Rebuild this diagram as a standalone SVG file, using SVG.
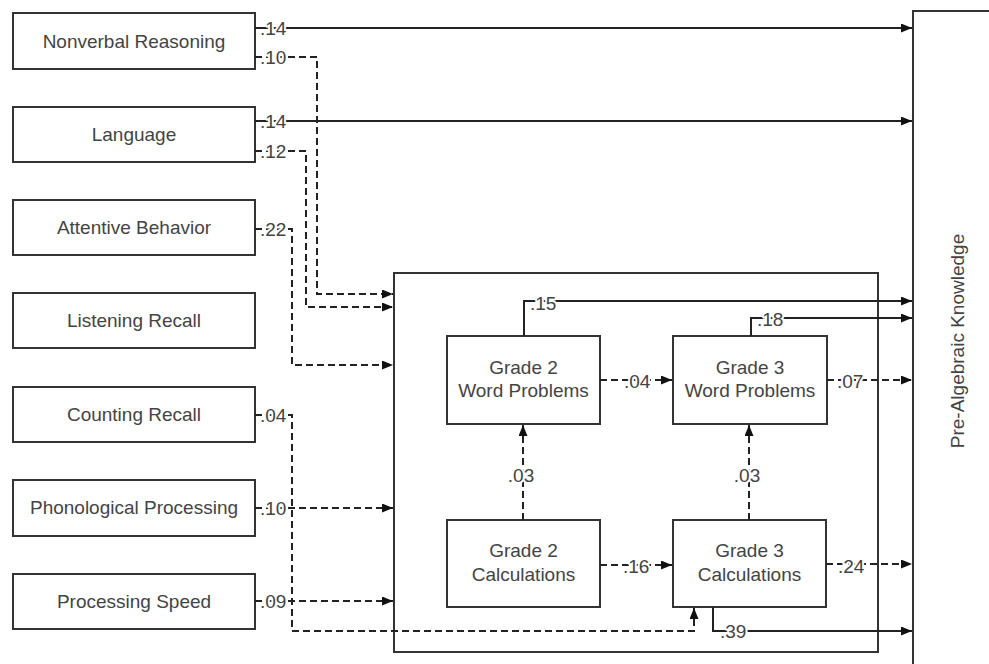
<svg xmlns="http://www.w3.org/2000/svg" width="989" height="664" viewBox="0 0 989 664">
<defs>
<style>
.box{fill:#fff;stroke:#333;stroke-width:2}
.t{font-family:"Liberation Sans",Arial,sans-serif;font-size:19px;fill:#444;text-anchor:middle}
.lbl{font-family:"Liberation Sans",Arial,sans-serif;font-size:19px;fill:#444;stroke:#fff;stroke-width:4px;paint-order:stroke;stroke-linejoin:round}
.m{text-anchor:middle}
.solid{fill:none;stroke:#222;stroke-width:2}
.dash{fill:none;stroke:#222;stroke-width:2;stroke-dasharray:7 4}
</style>
<marker id="arr" markerUnits="userSpaceOnUse" markerWidth="11" markerHeight="9" refX="11" refY="4.5" orient="auto">
<path d="M0,0 L11,4.5 L0,9 z" fill="#111"/>
</marker>
</defs>
<rect width="989" height="664" fill="#fff"/>

<g id="outcome">
<rect class="box" x="913" y="11" width="100" height="680"/>
<text class="t" x="964" y="341" transform="rotate(-90 964 341)">Pre-Algebraic Knowledge</text>
</g>

<g id="mediator-box">
<rect class="box" x="394" y="273" width="484" height="379" fill="none"/>
</g>

<g id="nonverbal"><rect class="box" x="13" y="13" width="242" height="56"/><text class="t" x="134" y="48">Nonverbal Reasoning</text></g>
<g id="language"><rect class="box" x="13" y="107" width="242" height="55"/><text class="t" x="134" y="141">Language</text></g>
<g id="attentive"><rect class="box" x="13" y="200" width="242" height="55"/><text class="t" x="134" y="234">Attentive Behavior</text></g>
<g id="listening"><rect class="box" x="13" y="293" width="242" height="55"/><text class="t" x="134" y="327">Listening Recall</text></g>
<g id="counting"><rect class="box" x="13" y="387" width="242" height="55"/><text class="t" x="134" y="421">Counting Recall</text></g>
<g id="phonological"><rect class="box" x="13" y="480" width="242" height="56"/><text class="t" x="134" y="514">Phonological Processing</text></g>
<g id="speed"><rect class="box" x="13" y="574" width="242" height="55"/><text class="t" x="134" y="608">Processing Speed</text></g>

<g id="g2wp"><rect class="box" x="447" y="336" width="153" height="88"/><text class="t" x="523.5" y="374">Grade 2</text><text class="t" x="523.5" y="397">Word Problems</text></g>
<g id="g3wp"><rect class="box" x="673" y="336" width="154" height="88"/><text class="t" x="750" y="374">Grade 3</text><text class="t" x="750" y="397">Word Problems</text></g>
<g id="g2calc"><rect class="box" x="447" y="520" width="153" height="87"/><text class="t" x="523.5" y="557">Grade 2</text><text class="t" x="523.5" y="581">Calculations</text></g>
<g id="g3calc"><rect class="box" x="673" y="520" width="153" height="87"/><text class="t" x="749.5" y="557">Grade 3</text><text class="t" x="749.5" y="581">Calculations</text></g>

<g id="connectors">
<path class="solid" d="M255,28 H912" marker-end="url(#arr)"/>
<path class="dash" d="M255,57 H317 V294 H393" marker-end="url(#arr)"/>
<path class="solid" d="M255,121 H912" marker-end="url(#arr)"/>
<path class="dash" d="M255,151 H306 V307 H393" marker-end="url(#arr)"/>
<path class="dash" d="M255,229 H292 V365 H393" marker-end="url(#arr)"/>
<path class="dash" d="M255,415 H292 V631 H694 V608" marker-end="url(#arr)"/>
<path class="dash" d="M255,508 H393" marker-end="url(#arr)"/>
<path class="dash" d="M255,601 H393" marker-end="url(#arr)"/>
<path class="solid" d="M524,336 V301 H912" marker-end="url(#arr)"/>
<path class="solid" d="M751,336 V318 H912" marker-end="url(#arr)"/>
<path class="dash" d="M600,380 H672" marker-end="url(#arr)"/>
<path class="dash" d="M827,380 H912" marker-end="url(#arr)"/>
<path class="dash" d="M523,520 V425" marker-end="url(#arr)"/>
<path class="dash" d="M749,520 V425" marker-end="url(#arr)"/>
<path class="dash" d="M600,565 H672" marker-end="url(#arr)"/>
<path class="dash" d="M826,564 H912" marker-end="url(#arr)"/>
<path class="solid" d="M713,607 V631 H912" marker-end="url(#arr)"/>

<text class="lbl" x="260" y="35">.14</text>
<text class="lbl" x="260" y="64">.10</text>
<text class="lbl" x="260" y="128">.14</text>
<text class="lbl" x="260" y="158">.12</text>
<text class="lbl" x="260" y="236">.22</text>
<text class="lbl" x="260" y="422">.04</text>
<text class="lbl" x="260" y="515">.10</text>
<text class="lbl" x="260" y="608">.09</text>
<text class="lbl" x="530" y="310">.15</text>
<text class="lbl" x="757" y="326">.18</text>
<text class="lbl" x="624" y="388">.04</text>
<text class="lbl" x="837" y="388">.07</text>
<text class="lbl m" x="521" y="482">.03</text>
<text class="lbl m" x="747" y="482">.03</text>
<text class="lbl" x="623" y="573">.16</text>
<text class="lbl" x="838" y="573">.24</text>
<text class="lbl" x="720" y="638">.39</text>
</g>
</svg>
